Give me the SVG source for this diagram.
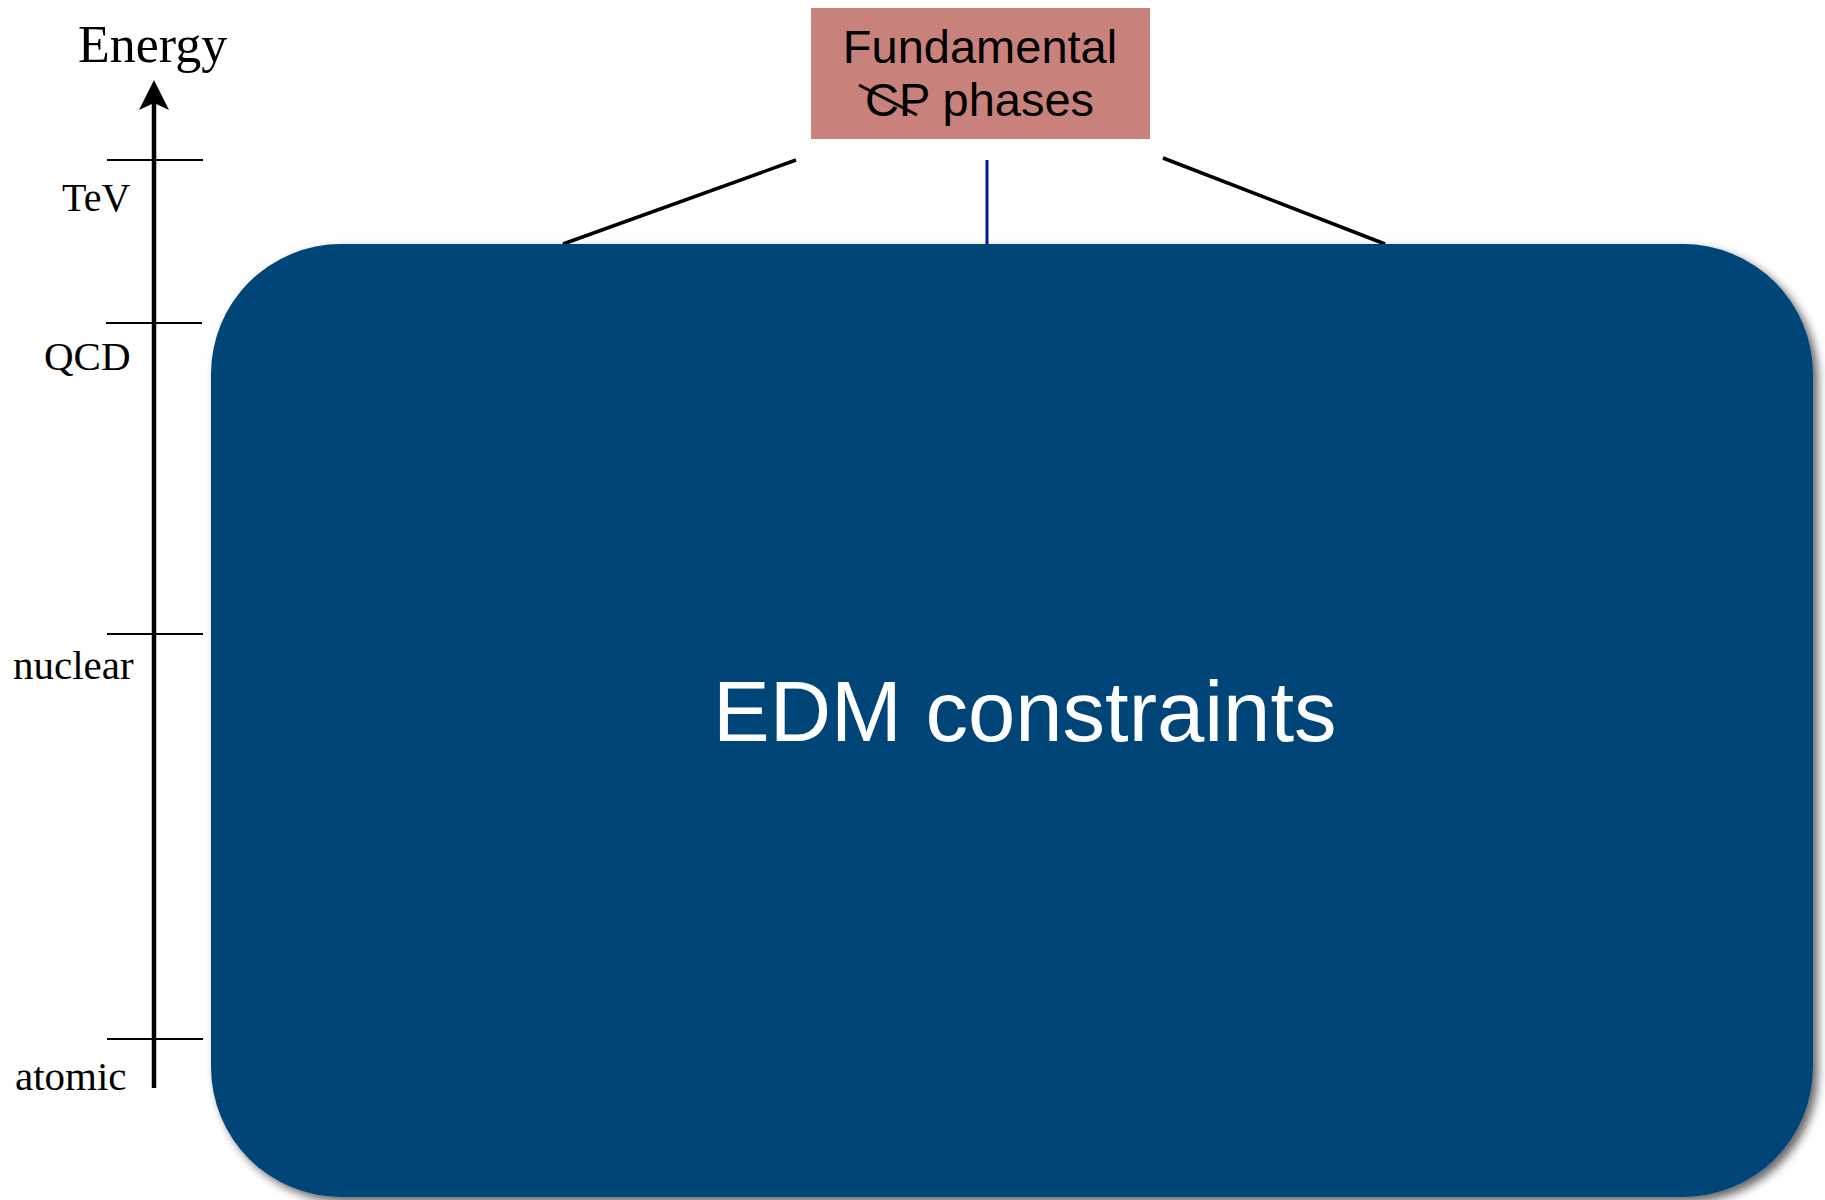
<svg xmlns="http://www.w3.org/2000/svg" width="1825" height="1200" viewBox="0 0 1825 1200">
<style>
.serif{font-family:"Liberation Serif","Times New Roman",serif;fill:#000}
.sans{font-family:"Liberation Sans",Arial,sans-serif}
.tick{stroke:#000;stroke-width:2}
.conn{stroke:#000;stroke-width:3.5;fill:none}
</style>
<defs>
<filter id="shadow" x="-5%" y="-5%" width="110%" height="110%">
<feDropShadow dx="5" dy="5" stdDeviation="5" flood-color="#000" flood-opacity="0.6"/>
</filter>
</defs>
<rect width="1825" height="1200" fill="#fff"/>
<g id="axis">
<line x1="154" y1="1088" x2="154" y2="100" stroke="#000" stroke-width="4.5"/>
<path d="M154,80 L169,110 L154,103 L139,110 Z" fill="#000"/>
<text class="serif" x="78" y="62" font-size="52">Energy</text>
<line class="tick" x1="107" y1="160" x2="203" y2="160"/>
<text class="serif" x="62" y="211" font-size="40">TeV</text>
<line class="tick" x1="106" y1="323" x2="202" y2="323"/>
<text class="serif" x="44" y="370" font-size="41">QCD</text>
<line class="tick" x1="107" y1="634" x2="203" y2="634"/>
<text class="serif" x="13" y="679" font-size="41">nuclear</text>
<line class="tick" x1="107" y1="1039" x2="203" y2="1039"/>
<text class="serif" x="15" y="1090" font-size="41">atomic</text>
</g>
<g id="connectors">
<line class="conn" x1="796" y1="160" x2="563" y2="244"/>
<line x1="987" y1="160" x2="987" y2="244" stroke="#001a96" stroke-width="3"/>
<line class="conn" x1="1163" y1="158" x2="1385" y2="244"/>
</g>
<g id="fundamental">
<rect x="811" y="8" width="339" height="131" fill="#c8817b"/>
<text class="sans" x="980" y="63" font-size="47" text-anchor="middle" fill="#000">Fundamental</text>
<text class="sans" x="865" y="116" font-size="47" fill="#000">CP phases</text>
<line x1="859" y1="85" x2="917" y2="115" stroke="#000" stroke-width="3"/>
</g>
<g id="edm">
<rect x="211" y="244" width="1602" height="953" rx="130" ry="130" fill="#024477" filter="url(#shadow)"/>
<text class="sans" x="713" y="741" font-size="85" fill="#fff">EDM constraints</text>
</g>
</svg>
